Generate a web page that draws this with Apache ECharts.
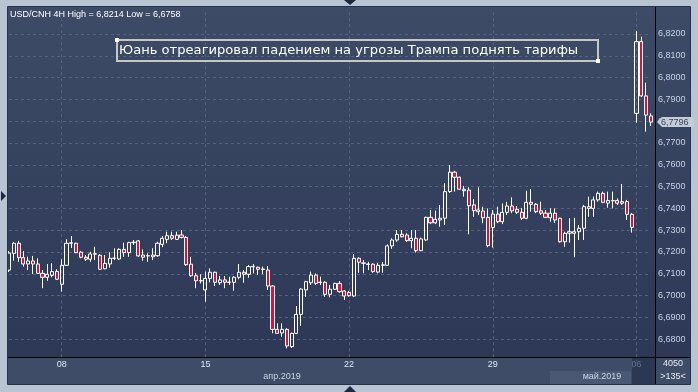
<!DOCTYPE html>
<html><head><meta charset="utf-8">
<script src="https://cdn.jsdelivr.net/npm/echarts@6/dist/echarts.min.js"></script>
<style>html,body{margin:0;padding:0;background:#b9c4d3;overflow:hidden}#c{width:698px;height:392px}</style>
</head><body><div id="c"></div>
<script>
const titleText = 'USD/CNH 4H High = 6,8214 Low = 6,6758';
const noteText = 'Юань отреагировал падением на угрозы Трампа поднять тарифы';
const tickLabels = ['08', '15', '22', '29', '06'];
const monthLabels = ['апр.2019', 'май.2019'];
const lastPrice = 6.7796;
const infoTop = '4050';
const infoBottom = '>135<';

const opens = [6.7117,6.7194,6.7240,6.7174,6.7145,6.7159,6.7145,6.7102,6.7084,6.7093,6.7111,6.7052,6.7139,6.7240,6.7240,6.7199,6.7176,6.7167,6.7190,6.7185,6.7123,6.7145,6.7171,6.7168,6.7212,6.7197,6.7243,6.7251,6.7186,6.7182,6.7186,6.7183,6.7235,6.7258,6.7275,6.7258,6.7278,6.7267,6.7144,6.7091,6.7067,6.7026,6.7079,6.7107,6.7059,6.7072,6.7062,6.7061,6.7084,6.7107,6.7098,6.7132,6.7130,6.7120,6.7117,6.7044,6.6845,6.6829,6.6845,6.6766,6.6827,6.6914,6.7026,6.7059,6.7094,6.7060,6.7061,6.7006,6.7029,6.7056,6.7021,6.7015,6.6998,6.7171,6.7150,6.7143,6.7144,6.7108,6.7139,6.7139,6.7228,6.7255,6.7281,6.7278,6.7252,6.7263,6.7206,6.7255,6.7359,6.7334,6.7347,6.7355,6.7477,6.7566,6.7543,6.7481,6.7484,6.7416,6.7385,6.7388,6.7359,6.7313,6.7374,6.7339,6.7382,6.7411,6.7396,6.7382,6.7355,6.7428,6.7419,6.7389,6.7378,6.7357,6.7378,6.7355,6.7247,6.7286,6.7286,6.7293,6.7309,6.7408,6.7400,6.7439,6.7469,6.7424,6.7435,6.7436,6.7424,6.7431,6.7373,6.7836,6.8165,6.7916,6.7824];
const closes = [6.7195,6.7240,6.7174,6.7145,6.7159,6.7145,6.7102,6.7084,6.7098,6.7110,6.7075,6.7139,6.7240,6.7242,6.7197,6.7176,6.7167,6.7191,6.7192,6.7121,6.7148,6.7171,6.7172,6.7212,6.7197,6.7243,6.7245,6.7182,6.7176,6.7183,6.7178,6.7240,6.7263,6.7275,6.7263,6.7277,6.7267,6.7142,6.7091,6.7068,6.7069,6.7079,6.7107,6.7061,6.7072,6.7061,6.7061,6.7084,6.7107,6.7098,6.7133,6.7134,6.7121,6.7122,6.7044,6.6845,6.6827,6.6845,6.6769,6.6827,6.6914,6.7030,6.7064,6.7094,6.7056,6.7062,6.7006,6.7029,6.7056,6.7018,6.6998,6.7000,6.7171,6.7153,6.7148,6.7145,6.7110,6.7139,6.7141,6.7228,6.7255,6.7281,6.7270,6.7252,6.7263,6.7206,6.7260,6.7359,6.7334,6.7350,6.7355,6.7477,6.7566,6.7543,6.7488,6.7488,6.7412,6.7390,6.7393,6.7357,6.7229,6.7374,6.7339,6.7382,6.7411,6.7389,6.7382,6.7355,6.7428,6.7419,6.7385,6.7378,6.7359,6.7378,6.7347,6.7247,6.7286,6.7293,6.7293,6.7309,6.7408,6.7400,6.7439,6.7469,6.7428,6.7436,6.7436,6.7424,6.7431,6.7373,6.7313,6.8165,6.7916,6.7828,6.7796];
const lows = [6.7108,6.7160,6.7155,6.7133,6.7117,6.7099,6.7099,6.7034,6.7068,6.7084,6.7072,6.7018,6.7136,6.7218,6.7194,6.7171,6.7159,6.7155,6.7163,6.7117,6.7121,6.7128,6.7163,6.7163,6.7178,6.7178,6.7232,6.7178,6.7160,6.7155,6.7163,6.7178,6.7222,6.7240,6.7255,6.7255,6.7262,6.7136,6.7087,6.7034,6.7056,6.6972,6.7061,6.7044,6.7049,6.7034,6.7049,6.7022,6.7075,6.7059,6.7082,6.7102,6.7094,6.7098,6.7026,6.6827,6.6824,6.6812,6.6758,6.6760,6.6823,6.6861,6.6995,6.7049,6.7049,6.7049,6.6995,6.6992,6.7026,6.7013,6.6980,6.6995,6.6995,6.7105,6.7102,6.7117,6.7105,6.7102,6.7105,6.7136,6.7215,6.7247,6.7267,6.7247,6.7217,6.7197,6.7205,6.7252,6.7328,6.7328,6.7316,6.7324,6.7472,6.7477,6.7484,6.7454,6.7281,6.7362,6.7370,6.7332,6.7222,6.7220,6.7332,6.7328,6.7370,6.7378,6.7374,6.7347,6.7350,6.7385,6.7378,6.7370,6.7355,6.7339,6.7334,6.7243,6.7224,6.7243,6.7176,6.7255,6.7255,6.7362,6.7362,6.7431,6.7424,6.7403,6.7400,6.7416,6.7416,6.7347,6.7289,6.7793,6.7912,6.7752,6.7778];
const highs = [6.7205,6.7247,6.7251,6.7205,6.7178,6.7182,6.7171,6.7117,6.7145,6.7148,6.7121,6.7167,6.7258,6.7273,6.7243,6.7205,6.7186,6.7201,6.7224,6.7190,6.7186,6.7199,6.7217,6.7217,6.7243,6.7247,6.7255,6.7255,6.7212,6.7194,6.7217,6.7247,6.7273,6.7293,6.7293,6.7293,6.7301,6.7273,6.7178,6.7104,6.7098,6.7110,6.7125,6.7110,6.7090,6.7090,6.7087,6.7090,6.7145,6.7117,6.7140,6.7145,6.7133,6.7133,6.7136,6.7049,6.6873,6.6873,6.6850,6.6830,6.6952,6.7034,6.7068,6.7110,6.7102,6.7087,6.7067,6.7049,6.7059,6.7067,6.7026,6.7021,6.7191,6.7176,6.7163,6.7155,6.7148,6.7151,6.7154,6.7235,6.7263,6.7301,6.7301,6.7286,6.7301,6.7301,6.7266,6.7362,6.7393,6.7390,6.7416,6.7515,6.7599,6.7572,6.7546,6.7503,6.7497,6.7442,6.7497,6.7408,6.7400,6.7393,6.7408,6.7423,6.7430,6.7451,6.7411,6.7402,6.7481,6.7489,6.7424,6.7431,6.7393,6.7400,6.7400,6.7357,6.7293,6.7355,6.7357,6.7324,6.7416,6.7454,6.7454,6.7477,6.7477,6.7477,6.7477,6.7446,6.7512,6.7439,6.7378,6.8214,6.8188,6.7977,6.7836];

// 4-hour bar timestamps (trading days only) starting 2019-04-04 04:00
const categories = [];
const mondayIdx = [];
(function () {
  let t = Date.UTC(2019, 3, 4, 4);
  while (categories.length < opens.length) {
    const d = new Date(t);
    const wd = d.getUTCDay();
    if (wd !== 0 && wd !== 6) {
      const p = n => String(n).padStart(2, '0');
      if (wd === 1 && d.getUTCHours() === 0) mondayIdx.push(categories.length);
      categories.push(d.getUTCFullYear() + '-' + p(d.getUTCMonth() + 1) + '-' + p(d.getUTCDate()) + ' ' + p(d.getUTCHours()) + ':00');
    }
    t += 4 * 3600e3;
  }
})();

const candleData = opens.map((o, i) => [o, closes[i], lows[i], highs[i]]);
const fmtPrice = v => v.toFixed(4).replace('.', ',');
const isTick = idx => mondayIdx.indexOf(idx) >= 0;
const lastTick = mondayIdx[mondayIdx.length - 1];

const chart = echarts.init(document.getElementById('c'), null, {renderer: 'canvas'});
const FONT = 'Liberation Sans';

const baseGraphics = [
  {type: 'rect', z: -20, shape: {x: 8, y: 7, width: 682, height: 350},
   style: {fill: {type: 'linear', x: 0, y: 0, x2: 0, y2: 1, colorStops: [{offset: 0, color: '#3e4b66'}, {offset: 1, color: '#2c3856'}]}}},
  {type: 'rect', z: -20, shape: {x: 8, y: 357, width: 682, height: 27}, style: {fill: '#3e4c67'}},
  {type: 'rect', z: -19, shape: {x: 550, y: 371, width: 81, height: 13}, style: {fill: '#4b5874'}},
  {type: 'rect', z: -19, shape: {x: 632, y: 358, width: 23, height: 26}, style: {fill: '#2c3751'}},
  {type: 'rect', z: 50, shape: {x: 7.5, y: 6.5, width: 683, height: 378}, style: {fill: null, stroke: '#27324a', lineWidth: 1}},
  {type: 'line', z: 50, shape: {x1: 8, y1: 357.5, x2: 690, y2: 357.5}, style: {stroke: '#000000', lineWidth: 1}},
  {type: 'line', z: 50, shape: {x1: 655.5, y1: 7, x2: 655.5, y2: 384}, style: {stroke: '#000000', lineWidth: 1}},
  {type: 'text', z: 50, x: 10, y: 15, style: {text: titleText, fill: '#ffffff', font: '9px "' + FONT + '"', verticalAlign: 'middle'}},
  {type: 'rect', z: 50, shape: {x: 117, y: 40, width: 481, height: 21}, style: {fill: null, stroke: '#c6c6c6', lineWidth: 2}},
  {type: 'rect', z: 51, shape: {x: 115, y: 38, width: 4, height: 4}, style: {fill: '#ffffff'}},
  {type: 'rect', z: 51, shape: {x: 596, y: 59, width: 4, height: 4}, style: {fill: '#ffffff'}},
  {type: 'text', z: 50, x: 119, y: 51, style: {text: noteText, fill: '#ffffff', font: '13.1px "DejaVu Sans"', verticalAlign: 'middle'}},
  {type: 'text', z: 50, x: 282, y: 377, style: {text: monthLabels[0], fill: '#c9d4e6', font: '9px "' + FONT + '"', align: 'center', verticalAlign: 'middle'}},
  {type: 'text', z: 50, x: 602, y: 377, style: {text: monthLabels[1], fill: '#c9d4e6', font: '9px "' + FONT + '"', align: 'center', verticalAlign: 'middle'}},
  {type: 'text', z: 50, x: 673, y: 364, style: {text: infoTop, fill: '#e6ebf2', font: '9px "' + FONT + '"', align: 'center', verticalAlign: 'middle'}},
  {type: 'text', z: 50, x: 673, y: 377, style: {text: infoBottom, fill: '#e6ebf2', font: '9px "' + FONT + '"', align: 'center', verticalAlign: 'middle'}},
  {type: 'polygon', z: 50, shape: {points: [[344, 0], [356, 0], [350, 5]]}, style: {fill: '#1d2740'}},
  {type: 'polygon', z: 50, shape: {points: [[1, 191], [1, 201], [6, 196]]}, style: {fill: '#1d2740'}},
  {type: 'polygon', z: 50, shape: {points: [[344, 392], [356, 392], [350, 386]]}, style: {fill: '#1d2740'}}
];

const option = {
  animation: false,
  backgroundColor: 'transparent',
  grid: {left: 9, right: 47.1, top: 12.2, bottom: 31, containLabel: false},
  xAxis: {
    type: 'category', data: categories, boundaryGap: false, offset: -4,
    axisLine: {show: false}, axisTick: {show: false},
    axisLabel: {
      interval: (idx) => isTick(idx),
      formatter: (val, idx) => tickLabels[mondayIdx.indexOf(idx)] || '',
      color: (val, idx) => (categories.indexOf(val) === lastTick ? '#66758f' : '#dfe6f0'),
      fontFamily: FONT, fontSize: 9, margin: 3
    },
    splitLine: {show: true, interval: (idx) => isTick(idx), lineStyle: {color: '#55637f', type: [3, 3], width: 1}}
  },
  yAxis: {
    type: 'value', position: 'right', min: 6.67, max: 6.83, interval: 0.01, offset: 4, scale: true,
    axisLine: {show: false}, axisTick: {show: false},
    axisLabel: {
      fontFamily: FONT, fontSize: 9, color: '#c6d2e6', margin: 3,
      formatter: v => (v < 6.675 || v > 6.825) ? '' : fmtPrice(v)
    },
    splitLine: {show: true, showMinLine: false, showMaxLine: false, lineStyle: {color: '#55637f', type: [3, 3], width: 1}}
  },
  series: [{
    type: 'candlestick', data: candleData, barWidth: 3.6, clip: false, silent: true,
    itemStyle: {color: 'rgba(0,0,0,0)', color0: '#dc1038', borderColor: '#ffffff', borderColor0: '#ffffff', borderWidth: 1}
  }],
  graphic: {elements: baseGraphics}
};
chart.setOption(option);

const py = chart.convertToPixel({yAxisIndex: 0}, lastPrice);
chart.setOption({graphic: {elements: baseGraphics.concat([
  {type: 'polygon', z: 60, shape: {points: [[657, py], [662, py - 5], [694, py - 5], [694, py + 5], [662, py + 5]]}, style: {fill: '#c4ccd7'}},
  {type: 'text', z: 61, x: 661, y: py, style: {text: fmtPrice(lastPrice), fill: '#3b4660', font: '9px "' + FONT + '"', verticalAlign: 'middle'}}
])}});
</script>
</body></html>
